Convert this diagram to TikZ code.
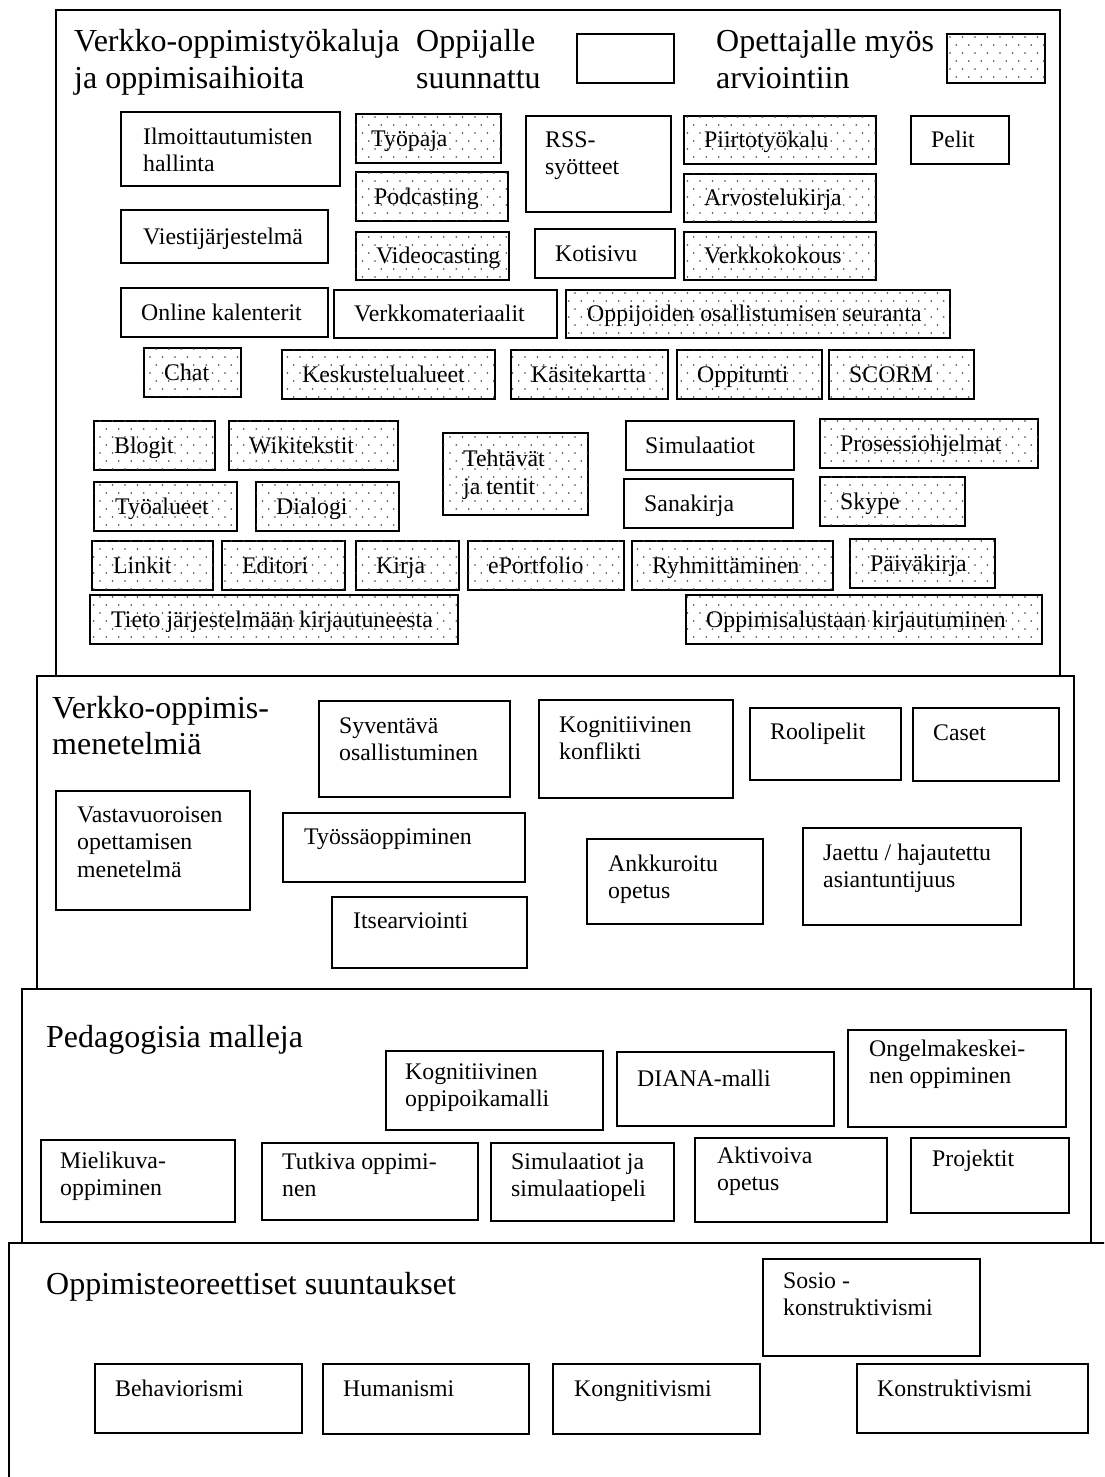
\documentclass[tikz,border=0pt]{standalone}
\usepackage{fontspec}
\setmainfont{Liberation Serif}
\usetikzlibrary{patterns}

% sparse staggered dot fill for the tools meant also for assessment
\pgfdeclarepatternformonly{sparsedots}{\pgfqpoint{-1pt}{-1pt}}{\pgfqpoint{7.5pt}{9pt}}{\pgfqpoint{12.5pt}{16pt}}{%
  \pgfpathcircle{\pgfqpoint{0pt}{0pt}}{0.8pt}%
  \pgfpathcircle{\pgfqpoint{6.25pt}{8pt}}{0.8pt}%
  \pgfusepath{fill}%
}

\newcommand{\boxfont}{\fontsize{23.8}{27.6}\selectfont}
\newcommand{\titlefont}{\fontsize{32}{36.5}\selectfont}
\newcommand{\lines}[1]{\begin{tabular}[t]{@{}l@{}}#1\end{tabular}}

\tikzset{
  panel/.style={draw, line width=1.5pt},
  plainbox/.style={draw, line width=1.6pt, inner sep=0pt, anchor=north west},
  dotbox/.style={plainbox, postaction={pattern=sparsedots, pattern color=black!75}},
  sz/.style 2 args={minimum width=#1, minimum height=#2},
  lbl/.style={anchor=base west, inner sep=0pt, font=\boxfont},
  mid/.style={anchor=west, inner sep=0pt, font=\boxfont, align=left},
  ttl/.style={anchor=base west, inner sep=0pt, font=\titlefont},
}

\begin{document}
\begin{tikzpicture}[x=1pt, y=-1pt]
\fill[white] (0,0) rectangle (1104,1477);
\clip (0,0) rectangle (1104,1477);

% ---------- layered panels ----------
\draw[panel] (56,10) rectangle (1060,676);
\draw[panel] (37,676) rectangle (1074,989);
\draw[panel] (22,989) rectangle (1091,1243);
\draw[panel] (9,1243) rectangle (1130,1500);

% ---------- panel 1: tools and learning objects ----------
\node[ttl] (t1) at (74,52) {\lines{Verkko-oppimistyökaluja\\ja oppimisaihioita}};
\node[ttl] (leg1t) at (416,52) {\lines{Oppijalle\\suunnattu}};
\node[plainbox, sz={97}{49}] (leg1) at (576,33) {};
\node[ttl] (leg2t) at (716,52) {\lines{Opettajalle myös\\arviointiin}};
\node[dotbox, sz={98}{49}] (leg2) at (946,33) {};

\node[plainbox, sz={219}{74}] (ilm) at (120,111) {};
\node[lbl] (ilm-t) at ([xshift=23pt,yshift=-33pt]ilm.north west) {\lines{Ilmoittautumisten\\hallinta}};
\node[dotbox, sz={145}{49}] (tyop) at (355,113) {};
\node[lbl] (tyop-t) at ([xshift=16pt,yshift=-8pt]tyop.west) {Työpaja};
\node[dotbox, sz={152}{49}] (podc) at (355,171) {};
\node[lbl] (podc-t) at ([xshift=19pt,yshift=-8pt]podc.west) {Podcasting};
\node[plainbox, sz={145}{96}] (rss) at (525,115) {};
\node[lbl] (rss-t) at ([xshift=20pt,yshift=-32pt]rss.north west) {\lines{RSS-\\syötteet}};
\node[dotbox, sz={192}{48}] (piir) at (683,115) {};
\node[lbl] (piir-t) at ([xshift=21pt,yshift=-8pt]piir.west) {Piirtotyökalu};
\node[plainbox, sz={98}{48}] (pelit) at (910,115) {};
\node[lbl] (pelit-t) at ([xshift=21pt,yshift=-8pt]pelit.west) {Pelit};

\node[plainbox, sz={207}{53}] (viesti) at (120,209) {};
\node[lbl] (viesti-t) at ([xshift=23pt,yshift=-8pt]viesti.west) {Viestijärjestelmä};
\node[dotbox, sz={192}{48}] (arvo) at (683,173) {};
\node[lbl] (arvo-t) at ([xshift=21pt,yshift=-8pt]arvo.west) {Arvostelukirja};
\node[dotbox, sz={153}{48}] (video) at (355,231) {};
\node[lbl] (video-t) at ([xshift=21pt,yshift=-8pt]video.west) {Videocasting};
\node[plainbox, sz={140}{49}] (koti) at (534,228) {};
\node[lbl] (koti-t) at ([xshift=21pt,yshift=-8pt]koti.west) {Kotisivu};
\node[dotbox, sz={192}{48}] (vkok) at (683,231) {};
\node[lbl] (vkok-t) at ([xshift=21pt,yshift=-8pt]vkok.west) {Verkkokokous};

\node[plainbox, sz={207}{49}] (onl) at (120,287) {};
\node[lbl] (onl-t) at ([xshift=21pt,yshift=-8pt]onl.west) {Online kalenterit};
\node[plainbox, sz={223}{48}] (vmat) at (333,289) {};
\node[lbl] (vmat-t) at ([xshift=21pt,yshift=-8pt]vmat.west) {Verkkomateriaalit};
\node[dotbox, sz={384}{48}] (seur) at (565,289) {};
\node[lbl] (seur-t) at ([xshift=22pt,yshift=-8pt]seur.west) {Oppijoiden osallistumisen seuranta};

\node[dotbox, sz={97}{49}] (chat) at (143,347) {};
\node[lbl] (chat-t) at ([xshift=21pt,yshift=-8pt]chat.west) {Chat};
\node[dotbox, sz={213}{49}] (kesk) at (281,349) {};
\node[lbl] (kesk-t) at ([xshift=21pt,yshift=-8pt]kesk.west) {Keskustelualueet};
\node[dotbox, sz={157}{49}] (kasi) at (510,349) {};
\node[lbl] (kasi-t) at ([xshift=21pt,yshift=-8pt]kasi.west) {Käsitekartta};
\node[dotbox, sz={145}{49}] (oppit) at (676,349) {};
\node[lbl] (oppit-t) at ([xshift=21pt,yshift=-8pt]oppit.west) {Oppitunti};
\node[dotbox, sz={145}{49}] (scorm) at (828,349) {};
\node[lbl] (scorm-t) at ([xshift=21pt,yshift=-8pt]scorm.west) {SCORM};

\node[dotbox, sz={121}{49}] (blog) at (93,420) {};
\node[lbl] (blog-t) at ([xshift=21pt,yshift=-8pt]blog.west) {Blogit};
\node[dotbox, sz={169}{49}] (wiki) at (228,420) {};
\node[lbl] (wiki-t) at ([xshift=21pt,yshift=-8pt]wiki.west) {Wikitekstit};
\node[dotbox, sz={145}{82}] (teht) at (442,432) {};
\node[mid] (teht-t) at ([xshift=21pt,yshift=-1pt]teht.west) {Tehtävät\\ja tentit};
\node[plainbox, sz={168}{49}] (simu) at (625,420) {};
\node[lbl] (simu-t) at ([xshift=20pt,yshift=-8pt]simu.west) {Simulaatiot};
\node[dotbox, sz={218}{49}] (pros) at (819,418) {};
\node[lbl] (pros-t) at ([xshift=21pt,yshift=-8pt]pros.west) {Prosessiohjelmat};

\node[dotbox, sz={143}{49}] (tyoa) at (93,481) {};
\node[lbl] (tyoa-t) at ([xshift=22pt,yshift=-8pt]tyoa.west) {Työalueet};
\node[dotbox, sz={143}{49}] (dial) at (255,481) {};
\node[lbl] (dial-t) at ([xshift=21pt,yshift=-8pt]dial.west) {Dialogi};
\node[plainbox, sz={169}{49}] (sana) at (623,478) {};
\node[lbl] (sana-t) at ([xshift=21pt,yshift=-8pt]sana.west) {Sanakirja};
\node[dotbox, sz={145}{49}] (skype) at (819,476) {};
\node[lbl] (skype-t) at ([xshift=21pt,yshift=-8pt]skype.west) {Skype};

\node[dotbox, sz={121}{49}] (link) at (91,540) {};
\node[lbl] (link-t) at ([xshift=22pt,yshift=-8pt]link.west) {Linkit};
\node[dotbox, sz={123}{49}] (edit) at (221,540) {};
\node[lbl] (edit-t) at ([xshift=21pt,yshift=-8pt]edit.west) {Editori};
\node[dotbox, sz={103}{49}] (kirja) at (355,540) {};
\node[lbl] (kirja-t) at ([xshift=21pt,yshift=-8pt]kirja.west) {Kirja};
\node[dotbox, sz={156}{49}] (eport) at (467,540) {};
\node[lbl] (eport-t) at ([xshift=21pt,yshift=-8pt]eport.west) {ePortfolio};
\node[dotbox, sz={201}{49}] (ryhm) at (631,540) {};
\node[lbl] (ryhm-t) at ([xshift=21pt,yshift=-8pt]ryhm.west) {Ryhmittäminen};
\node[dotbox, sz={145}{49}] (paiv) at (849,538) {};
\node[lbl] (paiv-t) at ([xshift=21pt,yshift=-8pt]paiv.west) {Päiväkirja};

\node[dotbox, sz={368}{49}] (tieto) at (89,594) {};
\node[lbl] (tieto-t) at ([xshift=22pt,yshift=-8pt]tieto.west) {Tieto järjestelmään kirjautuneesta};
\node[dotbox, sz={356}{49}] (alus) at (685,594) {};
\node[lbl] (alus-t) at ([xshift=21pt,yshift=-8pt]alus.west) {Oppimisalustaan kirjautuminen};

% ---------- panel 2: methods ----------
\node[ttl] (t2) at (52,718) {\lines{Verkko-oppimis-\\menetelmiä}};
\node[plainbox, sz={191}{96}] (syv) at (318,700) {};
\node[lbl] (syv-t) at ([xshift=21pt,yshift=-33pt]syv.north west) {\lines{Syventävä\\osallistuminen}};
\node[plainbox, sz={194}{98}] (kkon) at (538,699) {};
\node[lbl] (kkon-t) at ([xshift=21pt,yshift=-33pt]kkon.north west) {\lines{Kognitiivinen\\konflikti}};
\node[plainbox, sz={151}{72}] (rool) at (749,707) {};
\node[lbl] (rool-t) at ([xshift=21pt,yshift=-32pt]rool.north west) {Roolipelit};
\node[plainbox, sz={146}{73}] (case) at (912,707) {};
\node[lbl] (case-t) at ([xshift=21pt,yshift=-33pt]case.north west) {Caset};
\node[plainbox, sz={194}{119}] (vast) at (55,790) {};
\node[lbl] (vast-t) at ([xshift=22pt,yshift=-32pt]vast.north west) {\lines{Vastavuoroisen\\opettamisen\\menetelmä}};
\node[plainbox, sz={242}{69}] (tyos) at (282,812) {};
\node[lbl] (tyos-t) at ([xshift=22pt,yshift=-32pt]tyos.north west) {Työssäoppiminen};
\node[plainbox, sz={195}{71}] (itse) at (331,896) {};
\node[lbl] (itse-t) at ([xshift=22pt,yshift=-32pt]itse.north west) {Itsearviointi};
\node[plainbox, sz={176}{85}] (ankk) at (586,838) {};
\node[lbl] (ankk-t) at ([xshift=22pt,yshift=-33pt]ankk.north west) {\lines{Ankkuroitu\\opetus}};
\node[plainbox, sz={218}{97}] (jaet) at (802,827) {};
\node[lbl] (jaet-t) at ([xshift=21pt,yshift=-33pt]jaet.north west) {\lines{Jaettu / hajautettu\\asiantuntijuus}};

% ---------- panel 3: pedagogical models ----------
\node[ttl] (t3) at (46,1047) {Pedagogisia malleja};
\node[plainbox, sz={217}{79}] (kopp) at (385,1050) {};
\node[lbl] (kopp-t) at ([xshift=20pt,yshift=-29pt]kopp.north west) {\lines{Kognitiivinen\\oppipoikamalli}};
\node[plainbox, sz={217}{74}] (dian) at (616,1051) {};
\node[lbl] (dian-t) at ([xshift=21pt,yshift=-35pt]dian.north west) {DIANA-malli};
\node[plainbox, sz={218}{97}] (ongl) at (847,1029) {};
\node[lbl] (ongl-t) at ([xshift=22pt,yshift=-27pt]ongl.north west) {\lines{Ongelmakeskei-\\nen oppiminen}};
\node[plainbox, sz={194}{82}] (miel) at (40,1139) {};
\node[lbl] (miel-t) at ([xshift=20pt,yshift=-29pt]miel.north west) {\lines{Mielikuva-\\oppiminen}};
\node[plainbox, sz={216}{77}] (tutk) at (261,1142) {};
\node[lbl] (tutk-t) at ([xshift=21pt,yshift=-27pt]tutk.north west) {\lines{Tutkiva oppimi-\\nen}};
\node[plainbox, sz={183}{78}] (simp) at (490,1142) {};
\node[lbl] (simp-t) at ([xshift=21pt,yshift=-27pt]simp.north west) {\lines{Simulaatiot ja\\simulaatiopeli}};
\node[plainbox, sz={192}{84}] (akti) at (694,1137) {};
\node[lbl] (akti-t) at ([xshift=23pt,yshift=-26pt]akti.north west) {\lines{Aktivoiva\\opetus}};
\node[plainbox, sz={158}{75}] (proj) at (910,1137) {};
\node[lbl] (proj-t) at ([xshift=22pt,yshift=-29pt]proj.north west) {Projektit};

% ---------- panel 4: learning theories ----------
\node[ttl] (t4) at (46,1294) {Oppimisteoreettiset suuntaukset};
\node[plainbox, sz={217}{97}] (sosi) at (762,1258) {};
\node[lbl] (sosi-t) at ([xshift=21pt,yshift=-30pt]sosi.north west) {\lines{Sosio -\\konstruktivismi}};
\node[plainbox, sz={207}{69}] (beha) at (94,1363) {};
\node[lbl] (beha-t) at ([xshift=21pt,yshift=-33pt]beha.north west) {Behaviorismi};
\node[plainbox, sz={206}{70}] (huma) at (322,1363) {};
\node[lbl] (huma-t) at ([xshift=21pt,yshift=-33pt]huma.north west) {Humanismi};
\node[plainbox, sz={207}{70}] (kong) at (552,1363) {};
\node[lbl] (kong-t) at ([xshift=22pt,yshift=-33pt]kong.north west) {Kongnitivismi};
\node[plainbox, sz={231}{69}] (kons) at (856,1363) {};
\node[lbl] (kons-t) at ([xshift=21pt,yshift=-33pt]kons.north west) {Konstruktivismi};
\end{tikzpicture}
\end{document}
